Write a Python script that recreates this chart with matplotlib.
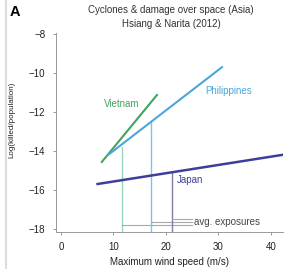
import matplotlib
matplotlib.use("Agg")
import matplotlib.pyplot as plt
from matplotlib.lines import Line2D

plt.rcParams['font.family'] = ['Liberation Sans', 'DejaVu Sans']

# fitted lines (wind speed, log(killed/pop)) end points
vietnam_x = [7.8, 18.3]
vietnam_y = [-14.56, -11.13]
phil_x = [9.0, 30.7]
phil_y = [-14.2, -9.7]
japan_x = [7.0, 42.1]
japan_y = [-15.69, -14.2]

# average exposures per country
avg_exp = [11.55, 17.1, 21.1]
avg_top = [-13.8, -12.5, -15.1]
avg_bar_y = [-17.77, -17.62, -17.49]
avg_bar_end = 25.0

xticks = [0, 10, 20, 30, 40]
yticks = [-18, -16, -14, -12, -10, -8]

c_vn = '#3ea65e'
c_ph = '#4ba6da'
c_jp = '#3c3f9c'
c_vn_l = '#9ad6b8'
c_ph_l = '#7cc4e6'
c_jp_l = '#7f7fa6'

fig = plt.figure(figsize=(2.85, 2.69), dpi=100)
ax = fig.add_axes([0.196, 0.1375, 0.797, 0.74])

ylo = -18.15
for xv, top, yb, c in zip(avg_exp, avg_top, avg_bar_y, [c_vn_l, c_ph_l, c_jp_l]):
    ax.plot([xv, xv], [ylo, top], color=c, lw=1.0)
    ax.plot([xv, avg_bar_end], [yb, yb], color='#a8a8a8', lw=0.8)

ax.plot(vietnam_x, vietnam_y, color=c_vn, lw=1.5)
ax.plot(phil_x, phil_y, color=c_ph, lw=1.5)
ax.plot(japan_x, japan_y, color=c_jp, lw=1.8)

ax.text(11.5, -11.6, 'Vietnam', color=c_vn, fontsize=7, ha='center', va='center')
ax.text(32.0, -10.9, 'Philippines', color=c_ph, fontsize=7, ha='center', va='center')
ax.text(22.1, -15.5, 'Japan', color=c_jp, fontsize=7, ha='left', va='center')
ax.text(25.4, -17.62, 'avg. exposures', color='#444444', fontsize=7, ha='left', va='center')

ax.set_xlim(-0.95, 42.3)
ax.set_ylim(ylo, -7.95)
ax.set_xticks(xticks)
ax.set_yticks(yticks)
ax.tick_params(labelsize=7, length=2.5, width=0.6, color='#888888', labelcolor='#222222', pad=5)
for s in ['top', 'right']:
    ax.spines[s].set_visible(False)
for s in ['left', 'bottom']:
    ax.spines[s].set_color('#999999')
    ax.spines[s].set_linewidth(0.7)

ax.set_xlabel('Maximum wind speed (m/s)', fontsize=7, color='#222222', labelpad=3)
fig.text(0.042, 0.554, 'Log(killed/population)', fontsize=5.8, rotation=90,
         ha='center', va='center', color='#222222')

fig.text(0.6, 0.962, 'Cyclones & damage over space (Asia)', fontsize=7,
         ha='center', va='center', color='#333333')
fig.text(0.6, 0.91, 'Hsiang & Narita (2012)', fontsize=7,
         ha='center', va='center', color='#333333')
fig.text(0.053, 0.955, 'A', fontsize=10.5, fontweight='bold', ha='center', va='center')

fig.add_artist(Line2D([0.02, 0.02], [0.0, 1.0], transform=fig.transFigure,
                      color='#dddddd', lw=1.5))

fig.savefig('out.png', dpi=100)
